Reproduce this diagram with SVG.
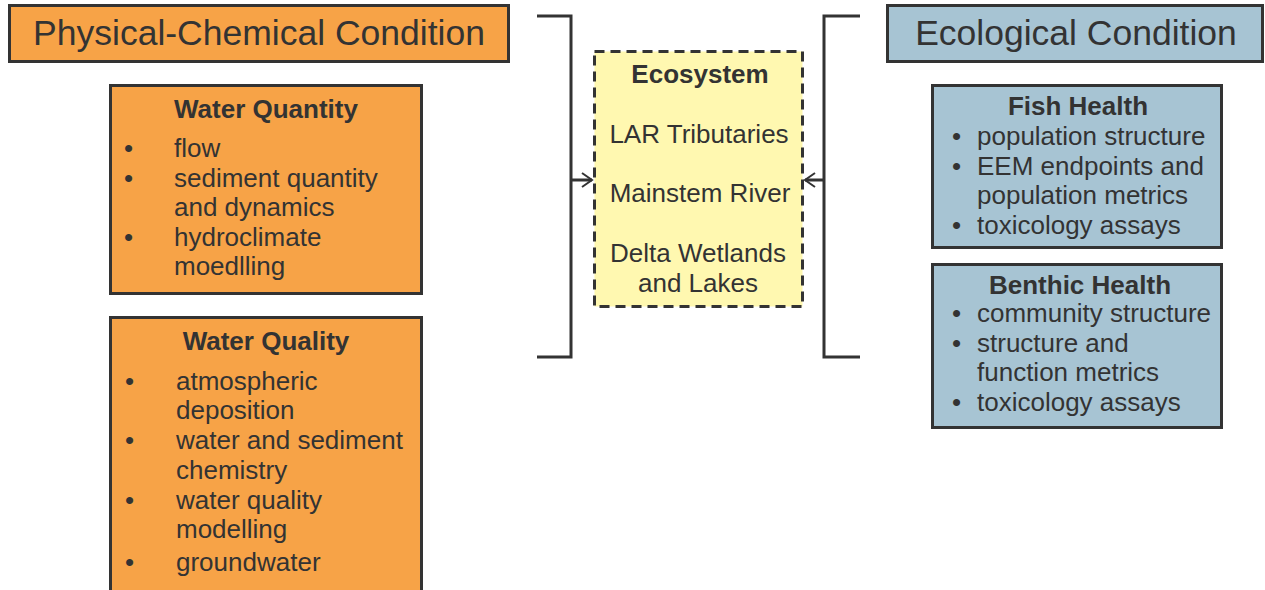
<svg xmlns="http://www.w3.org/2000/svg" width="1265" height="590" viewBox="0 0 1265 590">
<style>
.t{font-family:"Liberation Sans",Arial,sans-serif;fill:#333;font-size:26px}
.b{font-weight:bold}
.h{font-size:35.5px}
.or{fill:#F7A347;stroke:#333;stroke-width:3}
.bl{fill:#A7C4D3;stroke:#333;stroke-width:3}
.c{text-anchor:middle}
.conn{fill:none;stroke:#333;stroke-width:3}
</style>
<defs>
<marker id="ah" markerWidth="14" markerHeight="16" refX="12" refY="8" orient="auto" markerUnits="userSpaceOnUse">
<path d="M2,1 L12,8 L2,15" fill="none" stroke="#333" stroke-width="2"/>
</marker>
</defs>
<rect width="1265" height="590" fill="#fff"/>
<g id="physchem">
<rect class="or" x="9.5" y="5.5" width="499" height="56"/>
<text class="t h c" x="259" y="45">Physical-Chemical Condition</text>
</g>
<g id="waterquantity">
<rect class="or" x="110.5" y="85.5" width="311" height="208"/>
<text class="t b c" x="266" y="118">Water Quantity</text>
<text class="t" x="124" y="157">•</text><text class="t" x="174" y="157">flow</text>
<text class="t" x="124" y="187">•</text><text class="t" x="174" y="187">sediment quantity</text>
<text class="t" x="174" y="216">and dynamics</text>
<text class="t" x="124" y="246">•</text><text class="t" x="174" y="246">hydroclimate</text>
<text class="t" x="174" y="275">moedlling</text>
</g>
<g id="waterquality">
<rect class="or" x="110.5" y="317.5" width="311" height="285"/>
<text class="t b c" x="266" y="350">Water Quality</text>
<text class="t" x="125" y="390">•</text><text class="t" x="176" y="390">atmospheric</text>
<text class="t" x="176" y="419">deposition</text>
<text class="t" x="125" y="449">•</text><text class="t" x="176" y="449">water and sediment</text>
<text class="t" x="176" y="479">chemistry</text>
<text class="t" x="125" y="509">•</text><text class="t" x="176" y="509">water quality</text>
<text class="t" x="176" y="538">modelling</text>
<text class="t" x="125" y="571">•</text><text class="t" x="176" y="571">groundwater</text>
</g>
<g id="ecosystem">
<rect x="594.5" y="51.5" width="208" height="255" fill="#FFF8B0" stroke="#333" stroke-width="3" stroke-dasharray="10,6"/>
<text class="t b c" x="700" y="83">Ecosystem</text>
<text class="t c" x="699" y="143">LAR Tributaries</text>
<text class="t c" x="700" y="202">Mainstem River</text>
<text class="t c" x="698" y="262">Delta Wetlands</text>
<text class="t c" x="698" y="292">and Lakes</text>
</g>
<g id="ecological">
<rect class="bl" x="887.5" y="5.5" width="375" height="56"/>
<text class="t h c" x="1076" y="45">Ecological Condition</text>
</g>
<g id="fishhealth">
<rect class="bl" x="932.5" y="85.5" width="289" height="162"/>
<text class="t b c" x="1078" y="115">Fish Health</text>
<text class="t" x="952" y="145">•</text><text class="t" x="977" y="145">population structure</text>
<text class="t" x="952" y="175">•</text><text class="t" x="977" y="175">EEM endpoints and</text>
<text class="t" x="977" y="204">population metrics</text>
<text class="t" x="952" y="234">•</text><text class="t" x="977" y="234">toxicology assays</text>
</g>
<g id="benthichealth">
<rect class="bl" x="932.5" y="264.5" width="289" height="163"/>
<text class="t b c" x="1080" y="294">Benthic Health</text>
<text class="t" x="952" y="322">•</text><text class="t" x="977" y="322">community structure</text>
<text class="t" x="952" y="352">•</text><text class="t" x="977" y="352">structure and</text>
<text class="t" x="977" y="381">function metrics</text>
<text class="t" x="952" y="411">•</text><text class="t" x="977" y="411">toxicology assays</text>
</g>
<g id="connectors">
<path class="conn" d="M537,16 H571 V357 H537"/>
<path class="conn" d="M860,16 H824 V357 H860"/>
<path class="conn" d="M571,180 H592" stroke-width="2.5" marker-end="url(#ah)"/>
<path class="conn" d="M824,180 H805" stroke-width="2.5" marker-end="url(#ah)"/>
</g>
</svg>
